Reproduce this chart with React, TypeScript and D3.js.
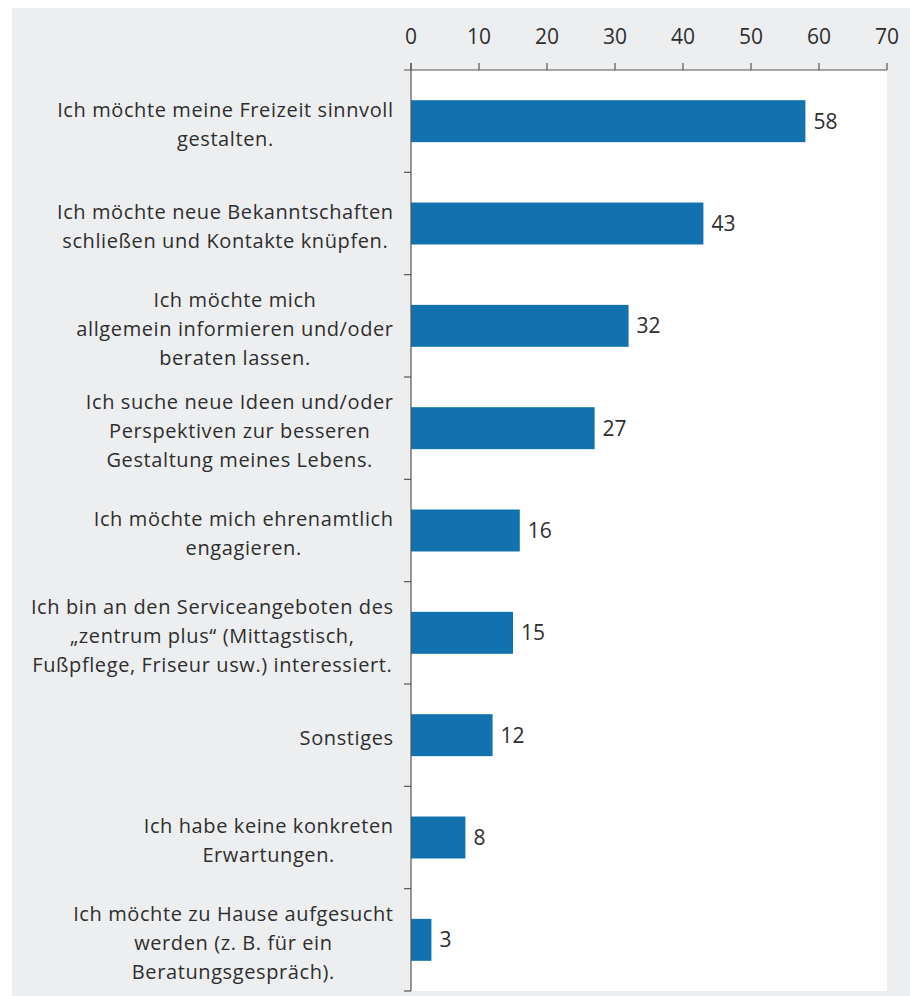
import React from "react";
import * as d3 from "d3";

const categories: string[][] = [
  ["Ich möchte meine Freizeit sinnvoll", "gestalten."],
  ["Ich möchte neue Bekanntschaften", "schließen und Kontakte knüpfen."],
  ["Ich möchte mich", "allgemein informieren und/oder", "beraten lassen."],
  ["Ich suche neue Ideen und/oder", "Perspektiven zur besseren", "Gestaltung meines Lebens."],
  ["Ich möchte mich ehrenamtlich", "engagieren."],
  ["Ich bin an den Serviceangeboten des", "„zentrum plus“ (Mittagstisch,", "Fußpflege, Friseur usw.) interessiert."],
  ["Sonstiges"],
  ["Ich habe keine konkreten", "Erwartungen."],
  ["Ich möchte zu Hause aufgesucht", "werden (z. B. für ein", "Beratungsgespräch)."],
];
const values: number[] = [58, 43, 32, 27, 16, 15, 12, 8, 3];
const xTicks: number[] = [0, 10, 20, 30, 40, 50, 60, 70];

const W = 910;
const H = 996;
const FONT = "'Open Sans', 'Liberation Sans', sans-serif";
const LABEL_SIZE = 20;
const LETTER = 0.6;
const NUM_SIZE = 21;
const WEIGHT = 400;
const TEXT_COLOR = "#2e2e2e";
const BAR_COLOR = "#1272b0";
const BG = "#edeef0";
const AXIS = "#555555";

let ctx: CanvasRenderingContext2D | null = null;
function measure(t: string, size: number, weight: number): number {
  if (!ctx) ctx = document.createElement("canvas").getContext("2d");
  if (!ctx) return t.length * size * 0.5;
  ctx.font = `${weight} ${size}px ${FONT}`;
  return ctx.measureText(t).width + LETTER * (t.length - 1);
}

export default function App() {
  const left = 411;
  const right = 887;
  const top = 70;
  const bottom = 991;
  const x = d3.scaleLinear().domain([0, 70]).range([left, right]);
  const idx = categories.map((_, i) => String(i));
  const y = d3.scaleBand<string>().domain(idx).range([top, bottom]).paddingInner(0.59).paddingOuter(0.295);
  const yb = d3.scaleBand<string>().domain(idx).range([top, bottom]);
  const labelRight = 393;
  const lineH = 29.3;

  return (
    <svg width={W} height={H} style={{ position: "absolute", left: 0, top: 0 }} fontFamily={FONT}>
      <rect x={12} y={8} width={W - 12} height={H - 8} fill={BG} />
      <rect x={left} y={top} width={right - left} height={bottom - top} fill="#ffffff" />
      {values.map((v, i) => (
        <rect key={"b" + i} x={x(0)} y={y(String(i))} width={x(v) - x(0)} height={y.bandwidth()} fill={BAR_COLOR} />
      ))}
      {values.map((v, i) => (
        <text key={"v" + i} x={x(v) + 8} y={(yb(String(i)) as number) + yb.bandwidth() / 2 + 7.5} fontSize={NUM_SIZE} fontWeight={WEIGHT} fill={TEXT_COLOR}>
          {v}
        </text>
      ))}
      <line x1={left - 7} x2={right} y1={top} y2={top} stroke={AXIS} strokeWidth={1.2} />
      {xTicks.map((t) => (
        <g key={"t" + t}>
          <line x1={x(t)} x2={x(t)} y1={top - 7} y2={top} stroke={AXIS} strokeWidth={1.2} />
          <text x={x(t)} y={44} textAnchor="middle" fontSize={NUM_SIZE} fontWeight={WEIGHT} fill={TEXT_COLOR}>
            {t}
          </text>
        </g>
      ))}
      <line x1={left} x2={left} y1={top - 7} y2={bottom} stroke={AXIS} strokeWidth={1.2} />
      {idx.map((d) => (
        <line key={"yt" + d} x1={left - 7} x2={left} y1={(yb(d) as number) + yb.bandwidth()} y2={(yb(d) as number) + yb.bandwidth()} stroke={AXIS} strokeWidth={1.2} />
      ))}
      {categories.map((lines, i) => {
        const widths = lines.map((l) => measure(l, LABEL_SIZE, WEIGHT));
        const wmax = Math.max(...widths);
        const cy = (yb(String(i)) as number) + yb.bandwidth() / 2;
        const n = lines.length;
        return (
          <text key={"c" + i} fontSize={LABEL_SIZE} fontWeight={WEIGHT} fill={TEXT_COLOR} letterSpacing={LETTER}>
            {lines.map((l, j) => (
              <tspan key={j} x={labelRight - wmax / 2 - widths[j] / 2} y={cy + (j - (n - 1) / 2) * lineH + 10}>
                {l}
              </tspan>
            ))}
          </text>
        );
      })}
    </svg>
  );
}
